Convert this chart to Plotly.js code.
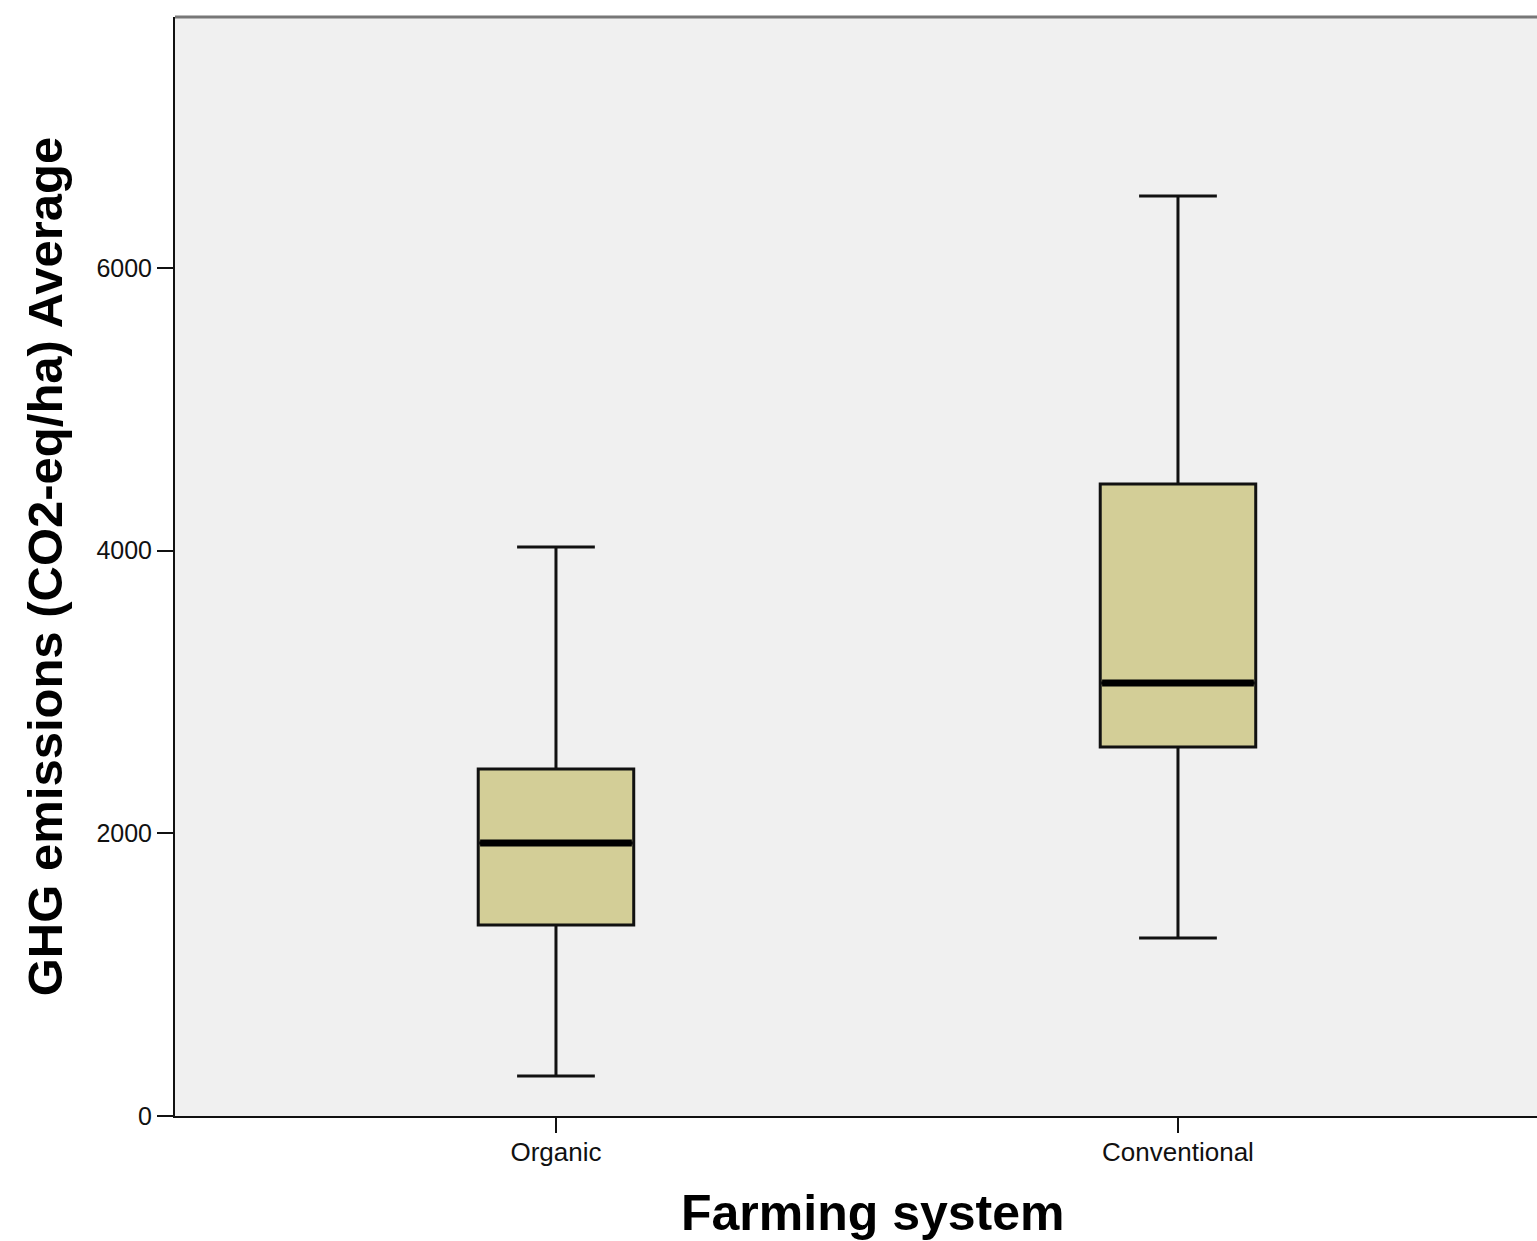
<!DOCTYPE html>
<html>
<head>
<meta charset="utf-8">
<script src="https://cdn.plot.ly/plotly-3.0.1.min.js"></script>
<style>html,body{margin:0;padding:0;background:#fff;}#chart{width:1537px;height:1241px;}</style>
</head>
<body>
<div id="chart"></div>
<script>
// Data
const categories = ["Organic", "Conventional"];
const lowerWhisker = [283, 1259];
const q1Values = [1351, 2611];
const medianValues = [1932, 3064];
const q3Values = [2455, 4472];
const upperWhisker = [4026, 6510];
const yTickValues = [0, 2000, 4000, 6000];
const xTitle = "Farming system";
const yTitle = "GHG emissions (CO2-eq/ha) Average";

const FONT = "Liberation Sans, Arial, sans-serif";
const BOX_W = 0.25;

const traces = [];
categories.forEach((cat, i) => {
  traces.push({
    type: "box",
    name: cat,
    x: [i],
    lowerfence: [lowerWhisker[i]],
    q1: [q1Values[i]],
    median: [medianValues[i]],
    q3: [q3Values[i]],
    upperfence: [upperWhisker[i]],
    width: BOX_W,
    whiskerwidth: 0.5,
    fillcolor: "#D3CE97",
    line: { color: "#111111", width: 3 },
    boxpoints: false,
    hoverinfo: "y",
    showlegend: false
  });
  // thick median line
  traces.push({
    type: "scatter",
    mode: "lines",
    x: [i - BOX_W / 2 + 0.003, i + BOX_W / 2 - 0.003],
    y: [medianValues[i], medianValues[i]],
    line: { color: "#000000", width: 7 },
    hoverinfo: "skip",
    showlegend: false
  });
});

const layout = {
  width: 1537,
  height: 1241,
  margin: { l: 175, r: 0, t: 17, b: 125 },
  paper_bgcolor: "#ffffff",
  plot_bgcolor: "#F0F0F0",
  font: { family: FONT, color: "#111111" },
  showlegend: false,
  xaxis: {
    range: [-0.6125, 1.5772],
    tickmode: "array",
    tickvals: categories.map((c, i) => i),
    ticktext: categories,
    ticks: "outside",
    ticklen: 15,
    tickwidth: 2,
    tickcolor: "#111111",
    tickfont: { size: 26, family: FONT, color: "#111111" },
    ticklabelstandoff: -3,
    showline: true,
    linecolor: "#111111",
    linewidth: 2,
    showgrid: false,
    zeroline: false,
    automargin: false
  },
  yaxis: {
    range: [0, 7776],
    tickmode: "array",
    tickvals: yTickValues,
    ticktext: yTickValues.map(String),
    ticks: "outside",
    ticklen: 16,
    tickwidth: 2,
    tickcolor: "#111111",
    tickfont: { size: 25, family: FONT, color: "#111111" },
    showline: true,
    linecolor: "#111111",
    linewidth: 2,
    showgrid: false,
    zeroline: false,
    title: { text: yTitle, font: { size: 49, family: FONT, weight: "bold", color: "#000000" }, standoff: 18 },
    automargin: false
  },
  annotations: [
    {
      text: xTitle, xref: "paper", yref: "paper", x: 0.5118, y: -0.0885,
      xanchor: "center", yanchor: "middle", showarrow: false,
      font: { size: 50, family: FONT, weight: "bold", color: "#000000" }
    }
  ],
  shapes: [
    { type: "line", xref: "paper", yref: "paper", x0: 0, x1: 1, y0: 1, y1: 1, line: { color: "#777777", width: 3 } }
  ]
};

Plotly.newPlot("chart", traces, layout, { displayModeBar: false, staticPlot: true });
</script>
</body>
</html>
